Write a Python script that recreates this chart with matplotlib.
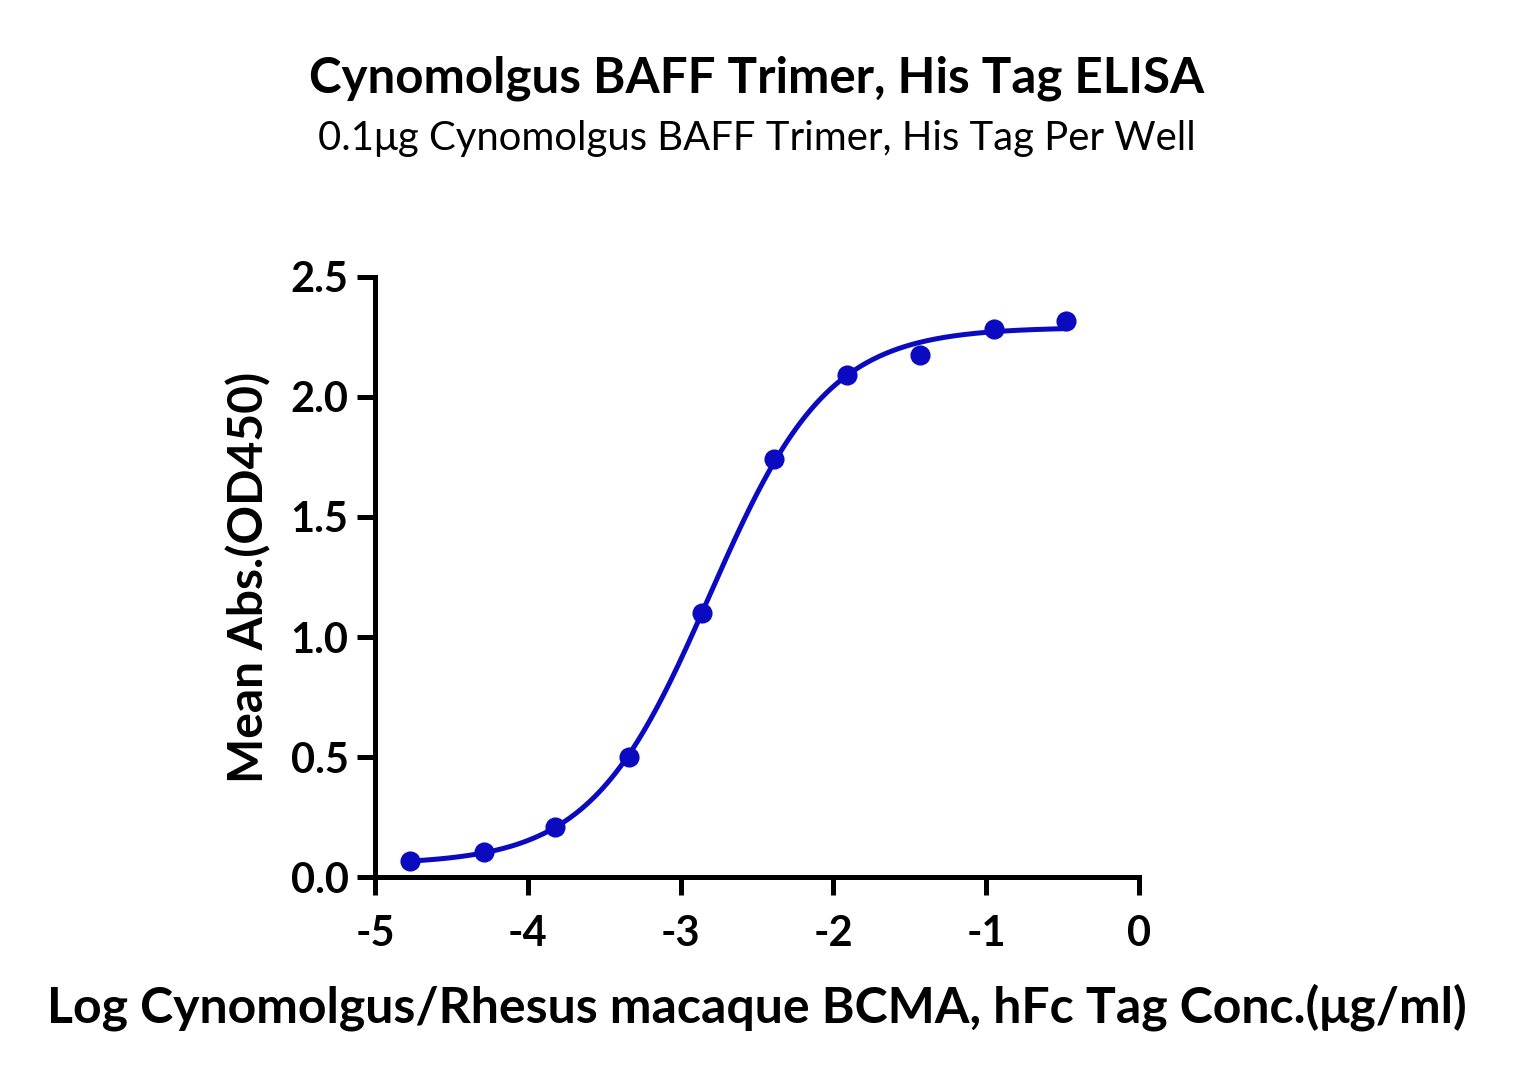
import numpy as np
import matplotlib
matplotlib.use("Agg")
import matplotlib.pyplot as plt

# data (log10 conc, mean OD450)
log_conc = [-4.77, -4.29, -3.82, -3.34, -2.86, -2.39, -1.91, -1.43, -0.95, -0.48]
od450 = [0.065, 0.105, 0.21, 0.50, 1.10, 1.74, 2.09, 2.175, 2.285, 2.315]

title = "Cynomolgus BAFF Trimer, His Tag ELISA"
subtitle = "0.1\u03bcg Cynomolgus BAFF Trimer, His Tag Per Well"
xlabel = "Log Cynomolgus/Rhesus macaque BCMA, hFc Tag Conc.(\u03bcg/ml)"
ylabel = "Mean Abs.(OD450)"
xticks = [-5, -4, -3, -2, -1, 0]
yticks = [0.0, 0.5, 1.0, 1.5, 2.0, 2.5]

color = "#0a0ac0"
plt.rcParams["font.family"] = ["Lato", "DejaVu Sans"]


def four_pl(x, p):
    bottom, top, logec50, hill = p
    return bottom + (top - bottom) / (1 + 10 ** ((logec50 - x) * hill))


# quick Levenberg-Marquardt fit of a 4PL curve
x = np.array(log_conc)
y = np.array(od450)
p = np.array([0.05, 2.3, -2.9, 1.0])
lam = 1e-2
for _ in range(200):
    r = y - four_pl(x, p)
    J = np.zeros((len(x), 4))
    for i in range(4):
        dp = np.zeros(4)
        dp[i] = 1e-6
        J[:, i] = (four_pl(x, p + dp) - four_pl(x, p)) / 1e-6
    A = J.T @ J
    step = np.linalg.solve(A + lam * np.diag(np.diag(A)), J.T @ r)
    pn = p + step
    if np.sum((y - four_pl(x, pn)) ** 2) < np.sum(r ** 2):
        p = pn
        lam *= 0.5
    else:
        lam *= 4

xs = np.linspace(x.min(), x.max(), 300)

fig = plt.figure(figsize=(15.14, 10.76), dpi=100, facecolor="w")
ax = fig.add_axes([0.2477, 0.1849, 0.5046, 0.5577])
ax.plot(xs, four_pl(xs, p), color=color, lw=3.6, zorder=2)
ax.plot(x, y, "o", color=color, ms=13.5, zorder=3, clip_on=False)

ax.set_xlim(-5, 0)
ax.set_ylim(0, 2.5)
ax.set_xticks(xticks)
ax.set_xticklabels([str(t) for t in xticks])
ax.set_yticks(yticks)
ax.set_yticklabels(["%.1f" % t for t in yticks])
for s in ["top", "right"]:
    ax.spines[s].set_visible(False)
for s in ["left", "bottom"]:
    ax.spines[s].set_linewidth(3.6)
ax.tick_params(width=3.6, length=13, labelsize=30)
ax.tick_params(axis="x", pad=14)
ax.tick_params(axis="y", pad=6)
for lab in ax.get_xticklabels() + ax.get_yticklabels():
    lab.set_fontweight("bold")

ax.set_xlabel(xlabel, fontsize=36, fontweight="bold", labelpad=22)
ax.set_ylabel(ylabel, fontsize=34.5, fontweight="bold", labelpad=14)

fig.text(0.5, 0.927, title, ha="center", va="center", fontsize=35.5, fontweight="bold")
fig.text(0.5, 0.871, subtitle, ha="center", va="center", fontsize=28.8)

fig.savefig("out.png", dpi=100)
